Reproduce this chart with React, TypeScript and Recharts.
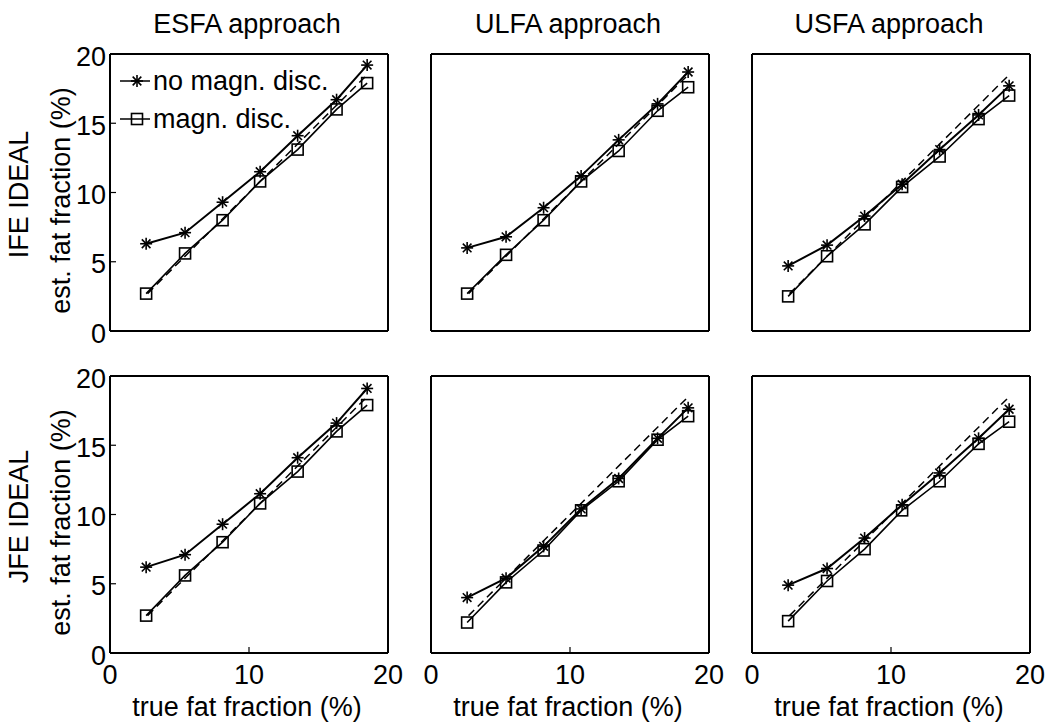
import React from 'react';
import { LineChart, Line, XAxis, YAxis, Legend } from 'recharts';

// true fat fraction (%) of the phantoms, shared by all panels
const TRUE_FF = [2.6, 5.4, 8.1, 10.8, 13.5, 16.3, 18.5];
// ends of the identity (dashed) line
const IDENTITY_X = [2.7, 18.5];

const APPROACHES = ['ESFA approach', 'ULFA approach', 'USFA approach'];
const METHODS = ['IFE IDEAL', 'JFE IDEAL'];
const SERIES_NAMES = ['no magn. disc.', 'magn. disc.'];
const X_TICKS = [0, 10, 20];
const Y_TICKS = [0, 5, 10, 15, 20];

// estimated fat fraction (%), IFE IDEAL row
const ESFA_IFE_NO_DISC = [6.3, 7.1, 9.3, 11.5, 14.1, 16.7, 19.2];
const ESFA_IFE_DISC = [2.7, 5.6, 8.0, 10.8, 13.1, 16.0, 17.9];
const ULFA_IFE_NO_DISC = [6.0, 6.8, 8.9, 11.2, 13.8, 16.4, 18.7];
const ULFA_IFE_DISC = [2.7, 5.5, 8.0, 10.8, 13.0, 15.9, 17.6];
const USFA_IFE_NO_DISC = [4.7, 6.2, 8.3, 10.6, 13.1, 15.6, 17.7];
const USFA_IFE_DISC = [2.5, 5.4, 7.7, 10.4, 12.6, 15.3, 17.0];

// estimated fat fraction (%), JFE IDEAL row
const ESFA_JFE_NO_DISC = [6.2, 7.1, 9.3, 11.5, 14.1, 16.6, 19.1];
const ESFA_JFE_DISC = [2.7, 5.6, 8.0, 10.8, 13.1, 16.0, 17.9];
const ULFA_JFE_NO_DISC = [4.0, 5.4, 7.7, 10.4, 12.6, 15.5, 17.7];
const ULFA_JFE_DISC = [2.2, 5.1, 7.4, 10.3, 12.4, 15.4, 17.1];
const USFA_JFE_NO_DISC = [4.9, 6.1, 8.3, 10.7, 13.0, 15.5, 17.6];
const USFA_JFE_DISC = [2.3, 5.2, 7.5, 10.3, 12.4, 15.1, 16.7];

const PANELS = [
    [
        { noDisc: ESFA_IFE_NO_DISC, disc: ESFA_IFE_DISC },
        { noDisc: ULFA_IFE_NO_DISC, disc: ULFA_IFE_DISC },
        { noDisc: USFA_IFE_NO_DISC, disc: USFA_IFE_DISC },
    ],
    [
        { noDisc: ESFA_JFE_NO_DISC, disc: ESFA_JFE_DISC },
        { noDisc: ULFA_JFE_NO_DISC, disc: ULFA_JFE_DISC },
        { noDisc: USFA_JFE_NO_DISC, disc: USFA_JFE_DISC },
    ],
];

// layout (page pixels)
const COL_LEFT = [110, 431, 752];
const ROW_TOP = [54, 376];
const PLOT_W = 278;
const PLOT_H = 277;
const AXIS_W = 60;
const AXIS_H = 70;
const PAD_T = 24;
const PAD_R = 24;
const FONT = 27;

const axisLine = { stroke: '#000', strokeWidth: 2 };
const tickLine = { stroke: '#000', strokeWidth: 1.2 };
const tickStyle = { fontSize: FONT, fill: '#000' };

const StarDot = (props: any) => {
    const { cx, cy, index } = props;
    if (cx == null || cy == null) return <g key={`s${index}`} />;
    const r = 6;
    const d = r * 0.72;
    return (
        <g key={`s${index}`} stroke="#000" strokeWidth={1.6}>
            <line x1={cx - r} y1={cy} x2={cx + r} y2={cy} />
            <line x1={cx} y1={cy - r} x2={cx} y2={cy + r} />
            <line x1={cx - d} y1={cy - d} x2={cx + d} y2={cy + d} />
            <line x1={cx - d} y1={cy + d} x2={cx + d} y2={cy - d} />
        </g>
    );
};

const SquareDot = (props: any) => {
    const { cx, cy, index } = props;
    if (cx == null || cy == null) return <g key={`q${index}`} />;
    return (
        <rect key={`q${index}`} x={cx - 5.5} y={cy - 5.5} width={11} height={11}
            fill="none" stroke="#000" strokeWidth={1.6} />
    );
};

const renderLegend = () => (
    <svg width={260} height={80}>
        {SERIES_NAMES.map((name, i) => {
            const y = 21 + i * 38;
            return (
                <g key={name}>
                    <line x1={5} x2={35} y1={y} y2={y} stroke="#000" strokeWidth={1.5} />
                    {i === 0 ? <StarDot cx={22} cy={y} index={0} /> : <SquareDot cx={22} cy={y} index={0} />}
                    <text x={38} y={y + 9} fontSize={FONT} fill="#000">{name}</text>
                </g>
            );
        })}
    </svg>
);

const Panel = ({ row, col }: { row: number; col: number }) => {
    const { noDisc, disc } = PANELS[row][col];
    const noDiscData = TRUE_FF.map((x, i) => ({ x, y: noDisc[i] }));
    const discData = TRUE_FF.map((x, i) => ({ x, y: disc[i] }));
    const identityData = IDENTITY_X.map((x) => ({ x, y: x }));
    const showX = row === 1;
    const showY = col === 0;

    return (
        <div style={{ position: 'absolute', left: COL_LEFT[col] - AXIS_W, top: ROW_TOP[row] - PAD_T }}>
            <LineChart
                width={PLOT_W + AXIS_W + PAD_R}
                height={PLOT_H + PAD_T + AXIS_H}
                margin={{ top: 0, right: 0, bottom: 0, left: 0 }}
            >
                <XAxis xAxisId="b" type="number" dataKey="x" domain={[0, 20]} ticks={X_TICKS}
                    orientation="bottom" height={AXIS_H} axisLine={axisLine}
                    tickLine={showX ? tickLine : false} tickSize={-6} tickMargin={18}
                    tick={showX ? tickStyle : false} interval={0} />
                <XAxis xAxisId="t" type="number" dataKey="x" domain={[0, 20]} ticks={X_TICKS}
                    orientation="top" height={PAD_T} axisLine={axisLine}
                    tickLine={showX ? tickLine : false} tickSize={-6} tick={false} />
                <YAxis yAxisId="l" type="number" domain={[0, 20]} ticks={Y_TICKS}
                    orientation="left" width={AXIS_W} axisLine={axisLine}
                    tickLine={showY ? tickLine : false} tickSize={-6} tickMargin={10}
                    tick={showY ? { ...tickStyle, dy: 2 } : false} interval={0} />
                <YAxis yAxisId="r" type="number" domain={[0, 20]} ticks={Y_TICKS}
                    orientation="right" width={PAD_R} axisLine={axisLine}
                    tickLine={showY ? tickLine : false} tickSize={-6} tick={false} />
                {row === 0 && col === 0 && (
                    <Legend layout="vertical" align="center" verticalAlign="middle"
                        content={renderLegend}
                        wrapperStyle={{ left: 65, top: 16 + PAD_T - 10, width: 260, height: 80 }} />
                )}
                <Line xAxisId="b" yAxisId="l" data={identityData} dataKey="y" type="linear"
                    stroke="#000" strokeWidth={1.5} strokeDasharray="8 5" dot={false}
                    isAnimationActive={false} legendType="none" />
                <Line xAxisId="b" yAxisId="l" data={discData} dataKey="y" name={SERIES_NAMES[1]}
                    type="linear" stroke="#000" strokeWidth={1.6} dot={SquareDot}
                    isAnimationActive={false} />
                <Line xAxisId="b" yAxisId="l" data={noDiscData} dataKey="y" name={SERIES_NAMES[0]}
                    type="linear" stroke="#000" strokeWidth={2} dot={StarDot}
                    isAnimationActive={false} />
            </LineChart>
        </div>
    );
};

export default function App() {
    return (
        <div style={{
            position: 'absolute', left: 0, top: 0, width: 1050, height: 727,
            background: '#fff', fontFamily: '"Liberation Sans", Arial, sans-serif', overflow: 'hidden',
        }}>
            {[0, 1].map((row) => [0, 1, 2].map((col) => (
                <Panel key={`${row}-${col}`} row={row} col={col} />
            )))}

            {/* titles, row names and axis labels */}
            <svg width={1050} height={727} style={{ position: 'absolute', left: 0, top: 0, pointerEvents: 'none' }}>
                {APPROACHES.map((t, c) => (
                    <text key={t} x={COL_LEFT[c] + PLOT_W / 2 - 2} y={33} textAnchor="middle"
                        fontSize={FONT} fill="#000">{t}</text>
                ))}
                {METHODS.map((m, r) => {
                    const cy = ROW_TOP[r] + PLOT_H / 2;
                    return (
                        <g key={m}>
                            <text transform={`translate(28, ${cy + 2}) rotate(-90)`} textAnchor="middle"
                                fontSize={FONT} fill="#000">{m}</text>
                            <text transform={`translate(70, ${cy + 8}) rotate(-90)`} textAnchor="middle"
                                fontSize={FONT} fill="#000">est. fat fraction (%)</text>
                        </g>
                    );
                })}
                {APPROACHES.map((t, c) => (
                    <text key={`x${t}`} x={COL_LEFT[c] + PLOT_W / 2 - 2} y={716} textAnchor="middle"
                        fontSize={FONT} fill="#000">true fat fraction (%)</text>
                ))}
            </svg>
        </div>
    );
}
